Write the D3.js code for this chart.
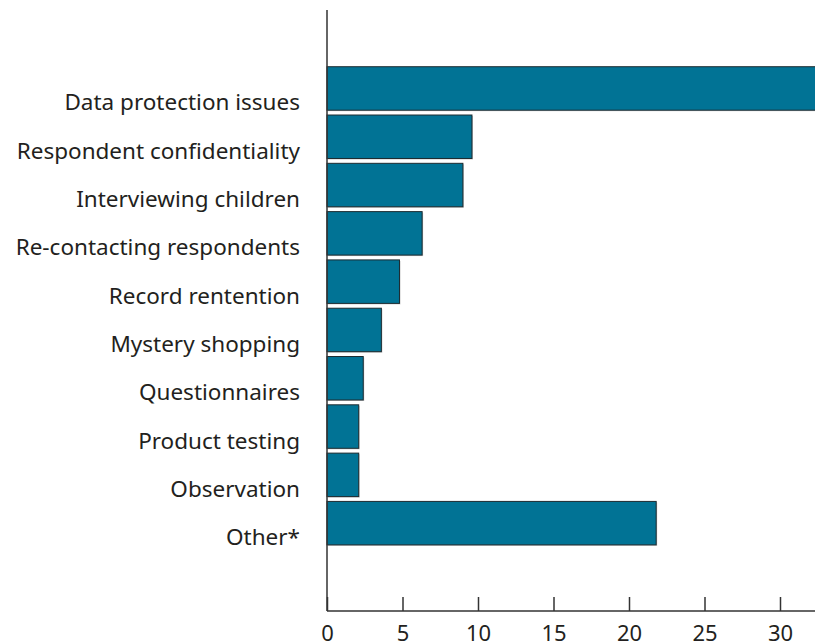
<!DOCTYPE html>
<html>
<head>
<meta charset="utf-8">
<script src="https://cdn.jsdelivr.net/npm/d3@7"></script>
<style>
  html, body { margin: 0; padding: 0; background: #fff; }
  svg { display: block; }
</style>
</head>
<body>
<div id="chart"></div>
<script>
// categories, top to bottom
const categories = [
  "Data protection issues",
  "Respondent confidentiality",
  "Interviewing children",
  "Re-contacting respondents",
  "Record rentention",
  "Mystery shopping",
  "Questionnaires",
  "Product testing",
  "Observation",
  "Other*"
];
const values = [32.5, 9.6, 9.0, 6.3, 4.8, 3.6, 2.4, 2.1, 2.1, 21.8];
const xTicks = [0, 5, 10, 15, 20, 25, 30];

const width = 815, height = 642;
const x0 = 327, axisY = 611;
const font = "'Noto Sans', 'Open Sans', sans-serif";

const svg = d3.select("#chart").append("svg")
    .attr("width", width)
    .attr("height", height)
    .style("font-family", font);

const x = d3.scaleLinear().domain([0, 30]).range([x0, x0 + 30 * 15.1]);
const y = d3.scaleBand().domain(categories).range([64.3, 547.3])
    .paddingInner(0.1).paddingOuter(0.05);

const data = categories.map((c, i) => ({ name: c, value: values[i] }));

// light shadow behind each bar
svg.append("g").selectAll("rect")
  .data(data).enter().append("rect")
    .attr("x", x(0) + 1)
    .attr("y", d => y(d.name) + 1)
    .attr("width", d => x(d.value) - x(0))
    .attr("height", y.bandwidth())
    .attr("fill", "#c8c8c8");

svg.append("g").selectAll("rect")
  .data(data).enter().append("rect")
    .attr("x", x(0))
    .attr("y", d => y(d.name))
    .attr("width", d => x(d.value) - x(0))
    .attr("height", y.bandwidth())
    .attr("fill", "#017395")
    .attr("stroke", "#1d2b30")
    .attr("stroke-width", 1);

// category labels (baseline sits below the bar centre, as in the original)
svg.append("g").selectAll("text")
  .data(data).enter().append("text")
    .attr("x", 300)
    .attr("y", d => y(d.name) + y.bandwidth() / 2 + 22)
    .attr("text-anchor", "end")
    .style("font-size", "22.5px")
    .style("fill", "#231f20")
    .text(d => d.name);

// vertical axis line
svg.append("line")
    .attr("x1", x0).attr("x2", x0)
    .attr("y1", 10).attr("y2", axisY)
    .attr("stroke", "#333").attr("stroke-width", 1.5);

// bottom axis with inward ticks
const xAxis = svg.append("g")
    .attr("transform", `translate(0,${axisY})`)
    .call(d3.axisBottom(x).tickValues(xTicks).tickSize(0));
xAxis.select(".domain").remove();
xAxis.append("line")
    .attr("x1", x0).attr("x2", width)
    .attr("stroke", "#333").attr("stroke-width", 1.5);
xAxis.selectAll(".tick").append("line")
    .attr("y1", 0).attr("y2", -14)
    .attr("stroke", "#333").attr("stroke-width", 1.5);
xAxis.selectAll(".tick text")
    .attr("y", 29.5)
    .attr("dy", null)
    .style("font-size", "22px")
    .style("font-family", font)
    .attr("fill", "#231f20");
</script>
</body>
</html>
